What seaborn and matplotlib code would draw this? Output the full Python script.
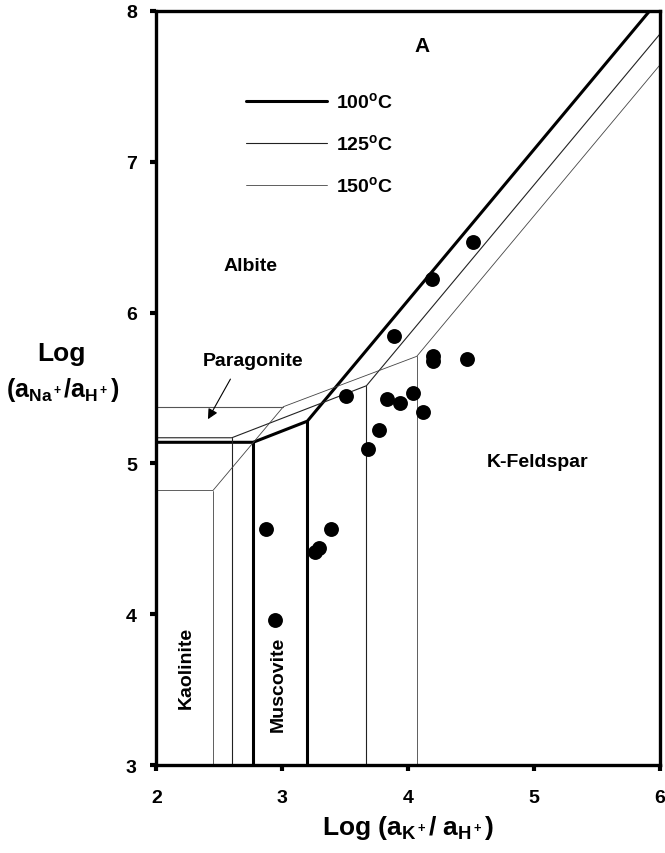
import numpy as np
import pandas as pd
import matplotlib
matplotlib.use("Agg")
import matplotlib.pyplot as plt
import seaborn as sns

# sample points: log(aK+/aH+), log(aNa+/aH+)
sample_x = [4.52, 4.19, 3.89, 4.20, 4.20, 4.47, 3.51, 3.83, 3.94, 4.04, 4.12, 3.77, 3.68, 2.87, 3.39, 3.29, 3.26, 2.94]
sample_y = [6.47, 6.22, 5.845, 5.71, 5.68, 5.69, 5.45, 5.43, 5.40, 5.47, 5.34, 5.22, 5.095, 4.565, 4.565, 4.44, 4.415, 3.96]

# phase boundaries at 100 C
b100_x = [2.0, 2.77, 3.20, 5.92]
b100_y = [5.14, 5.14, 5.28, 8.0]
b100_vx = [2.77, 3.20]
b100_vtop = [5.14, 5.28]

# phase boundaries at 125 C
b125_x = [2.0, 2.60, 3.67, 6.0]
b125_y = [5.17, 5.17, 5.515, 7.845]
b125_vx = [2.60, 3.67]
b125_vtop = [5.17, 5.515]

# phase boundaries at 150 C
b150_x = [2.0, 2.45, 3.01, 4.07, 6.0]
b150_y = [4.82, 4.82, 5.376, 5.71, 7.64]
b150_vx = [2.45, 4.07]
b150_vtop = [4.82, 5.71]
parag_x = [2.0, 3.01]
parag_y = [5.376, 5.376]

temps = ["100", "125", "150"]

sns.set_style("white")
plt.rcParams["font.family"] = ["Liberation Sans", "DejaVu Sans"]
plt.rcParams["font.weight"] = "bold"
plt.rcParams["text.color"] = "black"
plt.rcParams["axes.labelcolor"] = "black"
plt.rcParams["xtick.color"] = "black"
plt.rcParams["ytick.color"] = "black"
plt.rcParams["mathtext.fontset"] = "custom"
plt.rcParams["mathtext.rm"] = "Liberation Sans:bold"
plt.rcParams["mathtext.it"] = "Liberation Sans:bold"
plt.rcParams["mathtext.bf"] = "Liberation Sans:bold"

fig = plt.figure(figsize=(6.65, 8.54), dpi=100)
ax = fig.add_axes([0.235, 0.103, 0.757, 0.883])

styles = {"100": dict(color="black", lw=2.2),
          "125": dict(color="#222222", lw=0.8),
          "150": dict(color="#444444", lw=0.6)}

def draw(xs, ys, st):
    d = pd.DataFrame({"x": xs, "y": ys})
    sns.lineplot(data=d, x="x", y="y", sort=False, estimator=None, ax=ax,
                 color=st["color"], linewidth=st["lw"])

for t, bx, by, vx, vtop in [("100", b100_x, b100_y, b100_vx, b100_vtop),
                            ("125", b125_x, b125_y, b125_vx, b125_vtop),
                            ("150", b150_x, b150_y, b150_vx, b150_vtop)]:
    draw(bx, by, styles[t])
    for xv, yt in zip(vx, vtop):
        draw([xv, xv], [3.0, yt], styles[t])
draw(parag_x, parag_y, dict(color="#555555", lw=0.8))

sns.scatterplot(x=sample_x, y=sample_y, ax=ax, color="black", s=115,
                edgecolor="black", linewidth=0, zorder=5)

# legend drawn as in the original figure
leg_y = [7.40, 7.125, 6.845]
for t, ly in zip(temps, leg_y):
    draw([2.71, 3.36], [ly, ly], styles[t])
    ax.text(3.43, ly, t + r"$^{\rm o}$C", fontsize=14, fontweight="bold", va="center")

ax.text(4.115, 7.77, "A", fontsize=15, fontweight="bold", ha="center", va="center")
ax.text(2.75, 6.31, "Albite", fontsize=14, fontweight="bold", ha="center", va="center")
ax.text(2.77, 5.685, "Paragonite", fontsize=14, fontweight="bold", ha="center", va="center")
ax.text(5.03, 5.01, "K-Feldspar", fontsize=14, fontweight="bold", ha="center", va="center")
ax.text(2.24, 3.65, "Kaolinite", fontsize=14, fontweight="bold", ha="center", va="center", rotation=90)
ax.text(2.97, 3.54, "Muscovite", fontsize=14, fontweight="bold", ha="center", va="center", rotation=90)
ax.annotate("", xy=(2.40, 5.277), xytext=(2.60, 5.575),
            arrowprops=dict(arrowstyle="-|>", color="black", lw=0.8, mutation_scale=15))

ax.set_xlim(2, 6)
ax.set_ylim(3, 8)
ax.set_xticks([2, 3, 4, 5, 6])
ax.set_yticks([3, 4, 5, 6, 7, 8])
ax.tick_params(bottom=True, left=True, direction="out", length=4, width=3,
               labelsize=14, colors="black")
ax.tick_params(axis="x", pad=13)
ax.tick_params(axis="y", pad=10)
for lab in ax.get_xticklabels() + ax.get_yticklabels():
    lab.set_fontweight("bold")
for sp in ax.spines.values():
    sp.set_linewidth(2.4)
    sp.set_color("black")
ax.set_xlabel(r"Log (a$_{\rm K^+}$/ a$_{\rm H^+}$)", fontsize=19, fontweight="bold", labelpad=5)
ax.set_ylabel("")
fig.text(0.093, 0.586, "Log", fontsize=19, fontweight="bold", ha="center", va="center")
fig.text(0.095, 0.543, r"(a$_{\rm Na^+}$/a$_{\rm H^+}$)", fontsize=18, fontweight="bold", ha="center", va="center")

fig.savefig("out.png", dpi=100)
